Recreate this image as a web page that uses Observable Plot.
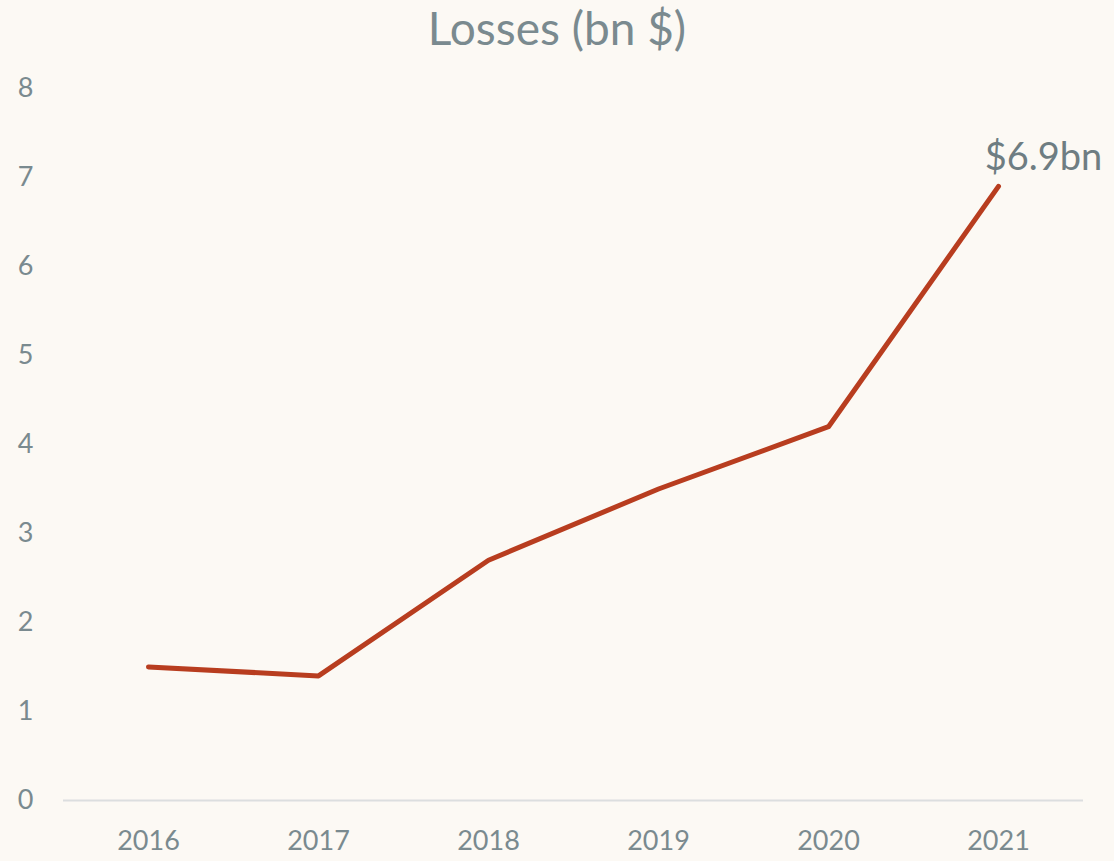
<!DOCTYPE html>
<html>
<head>
<meta charset="utf-8">
<script src="https://cdn.jsdelivr.net/npm/d3@7"></script>
<script src="https://cdn.jsdelivr.net/npm/@observablehq/plot@0.6"></script>
<style>
  html, body { margin: 0; padding: 0; background: #fcf9f4; }
  #wrap { position: relative; width: 1114px; height: 861px; overflow: hidden; }
  #title { position: absolute; top: 0; left: 0; width: 1114px; text-align: center; line-height: normal;
           font-family: Lato, "Open Sans", sans-serif; font-size: 46px; color: #7a8a8f; }
  svg { display: block; }
</style>
</head>
<body>
<div id="wrap">
  <div id="title">Losses (bn $)</div>
  <div id="chart"></div>
</div>
<script>
const years = ["2016", "2017", "2018", "2019", "2020", "2021"];
const losses = [1.5, 1.4, 2.7, 3.5, 4.2, 6.9];
const yTicks = [0, 1, 2, 3, 4, 5, 6, 7, 8];
const endLabel = "$6.9bn";

const data = years.map((y, i) => ({year: y, value: losses[i]}));
const last = data[data.length - 1];

const textColor = "#7a8a8f";
const chart = Plot.plot({
  width: 1114,
  height: 861,
  marginLeft: 63,
  marginRight: 31,
  marginTop: 88,
  marginBottom: 61,
  style: {background: "transparent", fontFamily: "Lato, 'Open Sans', sans-serif", color: textColor},
  x: {type: "point", domain: years, padding: 0.5, label: null},
  y: {domain: [0, 8], label: null},
  marks: [
    Plot.axisX({tickSize: 0, tickPadding: 30, fontSize: 27, fill: textColor, label: null}),
    Plot.axisY({ticks: yTicks, tickSize: 0, tickPadding: 30, fontSize: 27, fill: textColor, label: null, tickFormat: d => String(d)}),
    Plot.ruleY([0], {stroke: "#dcdedf", strokeWidth: 2}),
    Plot.line(data, {x: "year", y: "value", stroke: "#b83d1f", strokeWidth: 5, strokeLinejoin: "round", strokeLinecap: "round"}),
    Plot.text([last], {x: "year", y: "value", text: () => endLabel, dx: 45, dy: -29, fontSize: 38, fill: "#6e7d82", textAnchor: "middle"})
  ]
});
document.getElementById("chart").appendChild(chart);
</script>
</body>
</html>
